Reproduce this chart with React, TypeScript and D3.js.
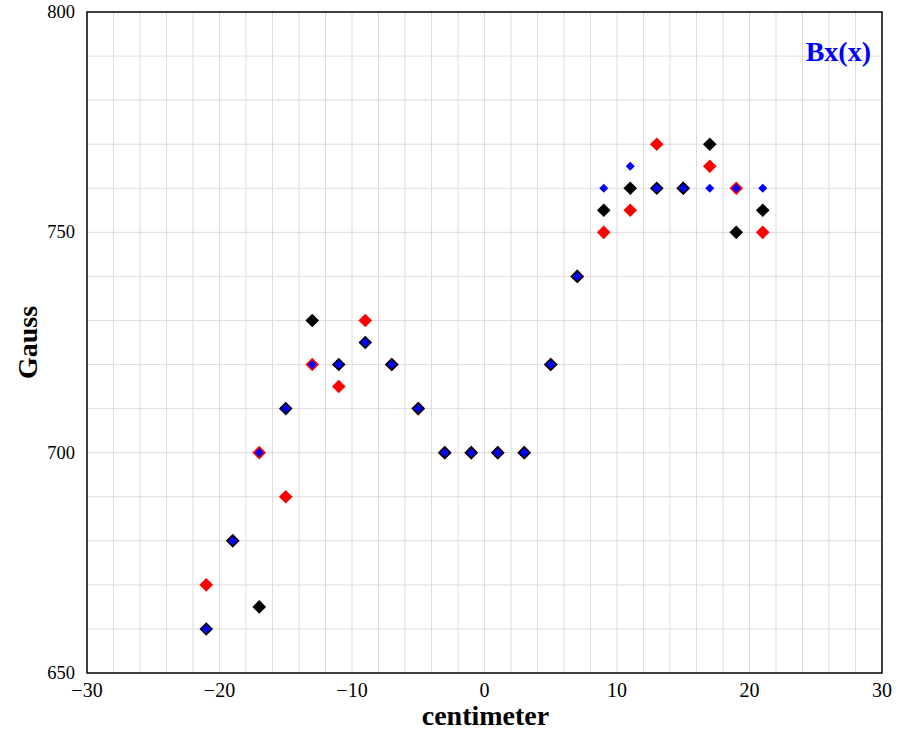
import React from "react";
import * as d3 from "d3";

const xs = [-21, -19, -17, -15, -13, -11, -9, -7, -5, -3, -1, 1, 3, 5, 7, 9, 11, 13, 15, 17, 19, 21];
const redVals = [670, 680, 700, 690, 720, 715, 730, 720, 710, 700, 700, 700, 700, 720, 740, 750, 755, 770, 760, 765, 760, 750];
const blackVals = [660, 680, 665, 710, 730, 720, 725, 720, 710, 700, 700, 700, 700, 720, 740, 755, 760, 760, 760, 770, 750, 755];
const blueVals = [660, 680, 700, 710, 720, 720, 725, 720, 710, 700, 700, 700, 700, 720, 740, 760, 765, 760, 760, 760, 760, 760];
const xTicks = [-30, -20, -10, 0, 10, 20, 30];
const yTicks = [650, 700, 750, 800];

export default function App() {
  const W = 899, H = 737;
  const L = 87, R = 882, T = 12, B = 673;
  const x = d3.scaleLinear().domain([-30, 30]).range([L, R]);
  const y = d3.scaleLinear().domain([650, 800]).range([B, T]);
  const xGrid = d3.range(-28, 30, 2);
  const yGrid = d3.range(660, 800, 10);
  const big = d3.symbol().type(d3.symbolDiamond2).size(118)();
  const small = d3.symbol().type(d3.symbolDiamond2).size(52)();
  const font = "'Liberation Serif', 'Times New Roman', serif";
  const series = [
    { vals: redVals, color: "#ff0000", path: big },
    { vals: blackVals, color: "#000000", path: big },
    { vals: blueVals, color: "#0000ff", path: small },
  ];
  return (
    <svg width={W} height={H} style={{ position: "absolute", left: 0, top: 0, background: "#fff" }}>
      <g>
        {xGrid.map((v) => (
          <line key={"gx" + v} x1={x(v)} x2={x(v)} y1={T} y2={B} stroke="#dddddd" strokeWidth={1} />
        ))}
        {yGrid.map((v) => (
          <line key={"gy" + v} x1={L} x2={R} y1={y(v)} y2={y(v)} stroke="#dddddd" strokeWidth={1} />
        ))}
      </g>
      {series.map((s, si) => (
        <g key={si}>
          {s.vals.map((v, i) => (
            <path key={i} d={s.path} transform={`translate(${x(xs[i])},${y(v)})`} fill={s.color} />
          ))}
        </g>
      ))}
      <rect x={L} y={T} width={R - L} height={B - T} fill="none" stroke="#000" strokeWidth={1.5} />
      {xTicks.map((v) => (
        <text key={"xt" + v} x={x(v)} y={697} textAnchor="middle" fontFamily={font} fontSize={20} fill="#000">
          {v < 0 ? "\u2212" + Math.abs(v) : String(v)}
        </text>
      ))}
      {yTicks.map((v) => (
        <text key={"yt" + v} x={75} y={y(v) + 6} textAnchor="end" fontFamily={font} fontSize={18.5} fill="#000">
          {v}
        </text>
      ))}
      <text x={(L + R) / 2 + 1} y={725} textAnchor="middle" fontFamily={font} fontSize={28} fontWeight="bold" fill="#000">
        centimeter
      </text>
      <text transform={`translate(37,${(T + B) / 2}) rotate(-90)`} textAnchor="middle" fontFamily={font} fontSize={28} fontWeight="bold" fill="#000">
        Gauss
      </text>
      <text x={871} y={61} textAnchor="end" fontFamily={font} fontSize={28} fontWeight="bold" fill="#0000ff">
        Bx(x)
      </text>
    </svg>
  );
}
